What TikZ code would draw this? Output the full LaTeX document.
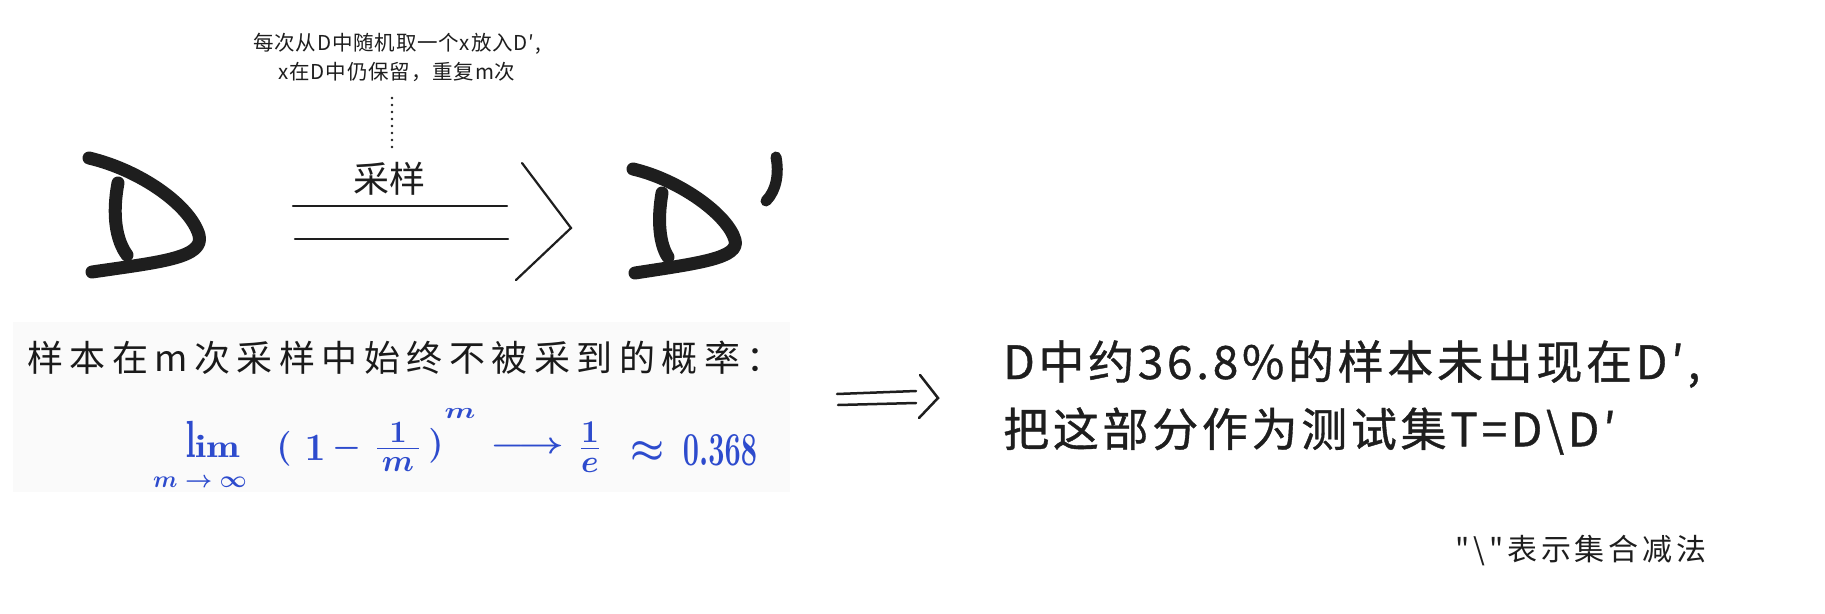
\documentclass[tikz,border=0pt]{standalone}
\usepackage{amsmath}
\usepackage{graphicx}
\usepackage{fontspec}
\newfontfamily\cjk{Noto Sans CJK SC}
\newfontfamily\cjknote[LetterSpace=4]{Noto Sans CJK SC}
\newfontfamily\cjkwide[LetterSpace=8,FakeBold=0.8]{Noto Sans CJK SC}
\newfontfamily\cjkhand[LetterSpace=18]{Noto Sans CJK SC}
\newfontfamily\cjkfoot[LetterSpace=13]{Noto Sans CJK SC}
\definecolor{ink}{HTML}{1E1E1E}
\definecolor{pen}{HTML}{1A1A1A}
\definecolor{blueink}{RGB}{45,75,205}
\definecolor{paper}{HTML}{FAFAFA}
\begin{document}
\begin{tikzpicture}[x=1pt,y=-1pt,
  brush/.style={draw=ink,line width=13pt,line cap=round,line join=round},
  thinline/.style={draw=ink,line width=2.2pt,line cap=round,line join=miter},
  dotline/.style={draw=ink,line width=2.6pt,line cap=round,dash pattern=on 0pt off 7pt},
  txt/.style={inner sep=0pt,text=ink},
  blue/.style={inner sep=0pt,text=blueink,font=\fontsize{24.88}{24.88}\selectfont\boldmath}]
\useasboundingbox (0,0) rectangle (1825,613);
\fill[white] (0,0) rectangle (1825,613);
% pasted handwritten note background
\fill[paper] (13,322) rectangle (790,492);

% annotation
\node[txt,align=center,font=\cjknote\fontsize{20.5}{29}\selectfont] (note) at (397,57)
  {每次从D中随机取一个x放入D′,\\x在D中仍保留，重复m次};
\node[txt,font=\cjk\fontsize{36}{36}\selectfont] (sampling) at (389,179) {采样};
\coordinate (dotA) at (392,98);
\coordinate (dotB) at (392,154);
\draw[dotline] (dotA) -- (dotB);

% big D
\draw[brush] (89,158) .. controls (140,170) and (190,205) .. (199,235)
  .. controls (205,258) and (160,262) .. (92,272);
\draw[brush] (118,183) .. controls (112,215) and (116,240) .. (127,255);

% big double arrow
\coordinate (bigA1) at (293,206); \coordinate (bigB1) at (507,206);
\coordinate (bigA2) at (295,239); \coordinate (bigB2) at (508,239);
\coordinate (bigT) at (522,163); \coordinate (bigTip) at (571,228); \coordinate (bigBot) at (516,280);
\draw[thinline] (bigA1) -- (bigB1);
\draw[thinline] (bigA2) -- (bigB2);
\draw[thinline] (bigT) -- (bigTip) -- (bigBot);

% D'
\draw[brush] (633,169) .. controls (680,180) and (728,215) .. (735,240)
  .. controls (740,258) and (700,263) .. (635,273);
\draw[brush] (662,193) .. controls (657,222) and (660,245) .. (668,257);
\draw[brush,line width=11pt] (776,157) .. controls (779,172) and (777,190) .. (766,201);

% handwritten text
\node[inner sep=0pt,text=pen,anchor=west,font=\cjkhand\fontsize{36}{36}\selectfont] (hand) at (27,358)
  {样本在m次采样中始终不被采到的概率：};
\node[blue,anchor=base west] (lim) at (186,457)
  {\scalebox{1.3}[2.1]{$\mathrm{l}$}\scalebox{1.6}[1.3]{$\mathrm{im}$}};
\node[blue] (limsub) at (200,482) {\scalebox{0.95}{$m\to\infty$}};
\node[blue] (lparen) at (284,449) {\scalebox{1.4}{$($}};
\node[blue] (one) at (315,448) {\scalebox{1.5}[1.55]{$1$}};
\node[blue] (minus) at (347,448) {\scalebox{1.3}{$-$}};
\node[blue] (fracm) at (398,447) {\scalebox{1.5}{$\frac{1}{\hspace{3pt}m\hspace{3pt}}$}};
\node[blue] (rparen) at (436,446) {\scalebox{1.4}{$)$}};
\node[blue] (expm) at (460,414) {\scalebox{1.2}[0.9]{$m$}};
\node[blue] (arr) at (527,448) {\scalebox{1.6}[1.2]{$\longrightarrow$}};
\node[blue] (frac) at (590,447) {\scalebox{1.53}{$\frac{1}{e}$}};
\node[blue] (approx) at (648,452) {\scalebox{1.53}{$\approx$}};
\node[blue] (value) at (720,450) {\scalebox{1.16}[1.9]{$0.368$}};

% small double arrow
\coordinate (smA1) at (837,394); \coordinate (smB1) at (916,391);
\coordinate (smA2) at (838,405); \coordinate (smB2) at (916,403);
\coordinate (smT) at (920,375); \coordinate (smTip) at (938,398); \coordinate (smBot) at (919,418);
\draw[thinline,line width=2.5pt] (smA1) -- (smB1);
\draw[thinline,line width=2.5pt] (smA2) -- (smB2);
\draw[thinline,line width=2.5pt] (smT) -- (smTip) -- (smBot);

% conclusion
\node[txt,anchor=west,font=\cjkwide\fontsize{46}{46}\selectfont] (res1) at (1003,364)
  {D中约36.8\%的样本未出现在D′,};
\node[txt,anchor=west,font=\cjkwide\fontsize{46}{46}\selectfont] (res2) at (1003,431)
  {把这部分作为测试集T=D\textbackslash D′};
\node[txt,anchor=west,font=\cjkfoot\fontsize{30}{30}\selectfont] (setminus) at (1455,551)
  {"\textbackslash"表示集合减法};
\end{tikzpicture}
\end{document}
